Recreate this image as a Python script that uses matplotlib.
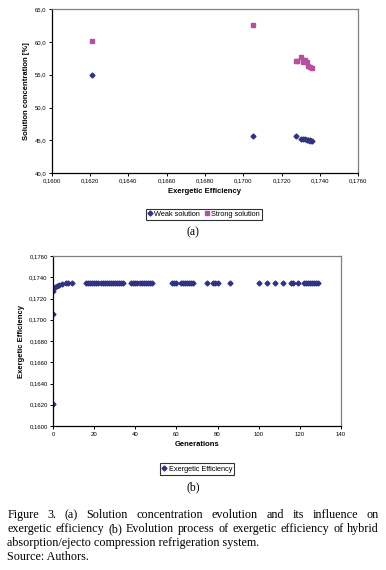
import numpy as np
import matplotlib
matplotlib.use("Agg")
import matplotlib.pyplot as plt

# (a) solution concentration vs exergetic efficiency
weak_eff = [0.1621, 0.1705, 0.17275, 0.1730, 0.1731, 0.1732, 0.1733, 0.1734, 0.1735, 0.1735, 0.1736]
weak_conc = [55.0, 45.7, 45.7, 45.15, 45.2, 45.15, 45.05, 45.0, 45.05, 44.95, 44.9]
strong_eff = [0.1621, 0.1705, 0.17275, 0.1728, 0.1730, 0.1731, 0.1731, 0.1732, 0.1733, 0.1734, 0.1735, 0.1736]
strong_conc = [60.2, 62.6, 57.1, 57.1, 57.7, 57.3, 57.0, 57.2, 57.0, 56.35, 56.2, 56.05]

# (b) exergetic efficiency per generation
gen_early = [0, 0, 0, 0, 1, 2, 3, 4, 6, 7, 9]
eff_early = [0.1621, 0.1705, 0.1727, 0.1730, 0.1731, 0.1732, 0.1733, 0.1734, 0.1735, 0.1735, 0.1735]
gen_late = (list(range(16, 35)) + list(range(38, 49)) + [58, 59, 60] + list(range(62, 69))
            + [75, 78, 79, 80, 86, 100, 104, 108, 112, 116, 117, 119] + list(range(122, 130)))
eff_late = [0.1735] * len(gen_late)

caption = ["Figure 3.  (a) Solution concentration evolution and its influence on",
           "exergetic efficiency (b) Evolution process of exergetic efficiency of hybrid",
           "absorption/ejecto compression refrigeration system.",
           "Source: Authors."]

NAVY = "#30337f"
MAGENTA = "#b4519f"
SANS = "Liberation Sans"
SERIF = "Liberation Serif"

W, H = 386, 570
fig = plt.figure(figsize=(W / 100, H / 100), dpi=100)


def style_axes(ax):
    for s in ("left", "bottom"):
        ax.spines[s].set_color("black")
        ax.spines[s].set_linewidth(0.9)
    for s in ("top", "right"):
        ax.spines[s].set_color("#808080")
        ax.spines[s].set_linewidth(0.9)
    ax.tick_params(direction="out", length=2.5, width=0.7, labelsize=4.3, pad=1.5,
                   top=False, right=False)
    for lab in ax.get_xticklabels() + ax.get_yticklabels():
        lab.set_family(SANS)


def comma(fmt):
    return plt.FuncFormatter(lambda v, p: fmt.format(v).replace(".", ","))


# ---- chart (a)
ax1 = fig.add_axes([51.7 / W, 1 - 173 / H, (358.3 - 51.7) / W, (173 - 9.3) / H])
ax1.plot(weak_eff, weak_conc, ls="none", marker="D", ms=2.5, color=NAVY, label="Weak solution")
ax1.plot(strong_eff, strong_conc, ls="none", marker="s", ms=2.8, color=MAGENTA, label="Strong solution")
ax1.set_xlim(0.16, 0.176)
ax1.set_ylim(40, 65)
ax1.set_xticks(np.arange(0.16, 0.17601, 0.002))
ax1.set_yticks(np.arange(40, 65.1, 5))
ax1.xaxis.set_major_formatter(comma("{:.4f}"))
ax1.yaxis.set_major_formatter(comma("{:.1f}"))
style_axes(ax1)
ax1.set_xlabel("Exergetic Efficiency", fontsize=5.5, fontweight="bold", family=SANS, labelpad=3)
ax1.set_ylabel("Solution concentration [%]", fontsize=5.5, fontweight="bold", family=SANS, labelpad=3)
leg1 = ax1.legend(loc="center", bbox_to_anchor=(204 / W, 1 - 214.5 / H), bbox_transform=fig.transFigure,
                  ncol=2, frameon=True, fancybox=False, edgecolor="black",
                  handlelength=0.6, handletextpad=0.3, columnspacing=0.6, borderpad=0.3,
                  prop={"family": SANS, "size": 5.3})
leg1.get_frame().set_linewidth(0.8)
fig.text(193 / W, 1 - 232 / H, "(a)", ha="center", va="center", family=SERIF, fontsize=8.5)

# ---- chart (b)
ax2 = fig.add_axes([53.3 / W, 1 - 426 / H, (340.7 - 53.3) / W, (426 - 256) / H])
ax2.plot(gen_early + gen_late, eff_early + eff_late, ls="none", marker="D", ms=2.5, color=NAVY,
         label="Exergetic Efficiency")
ax2.set_xlim(0, 140)
ax2.set_ylim(0.16, 0.176)
ax2.set_xticks(np.arange(0, 141, 20))
ax2.set_yticks(np.arange(0.16, 0.17601, 0.002))
ax2.yaxis.set_major_formatter(comma("{:.4f}"))
style_axes(ax2)
ax2.set_xlabel("Generations", fontsize=5.5, fontweight="bold", family=SANS, labelpad=3)
ax2.set_ylabel("Exergetic Efficiency", fontsize=5.5, fontweight="bold", family=SANS, labelpad=3)
leg2 = ax2.legend(loc="center", bbox_to_anchor=(197 / W, 1 - 469 / H), bbox_transform=fig.transFigure,
                  fancybox=False, edgecolor="black", handlelength=0.6, handletextpad=0.3,
                  borderpad=0.3, prop={"family": SANS, "size": 5.3})
leg2.get_frame().set_linewidth(0.8)
fig.text(193 / W, 1 - 487 / H, "(b)", ha="center", va="center", family=SERIF, fontsize=8.5)

# ---- caption, first two lines justified
renderer = fig.canvas.get_renderer()
x0, x1 = 7.3, 379.0
line_y = [515, 529, 543, 557]
for i, line in enumerate(caption):
    y = 1 - line_y[i] / H
    if i >= 2:
        fig.text(x0 / W, y, line, ha="left", va="center", family=SERIF, fontsize=8.75)
        continue
    words = line.split()
    texts = [fig.text(0, y, w, ha="left", va="center", family=SERIF, fontsize=8.75) for w in words]
    widths = [t.get_window_extent(renderer).width for t in texts]
    gap = (x1 - x0 - sum(widths)) / (len(words) - 1)
    x = x0
    for t, w in zip(texts, widths):
        t.set_x(x / W)
        x += w + gap

fig.savefig("out.png", dpi=100)
